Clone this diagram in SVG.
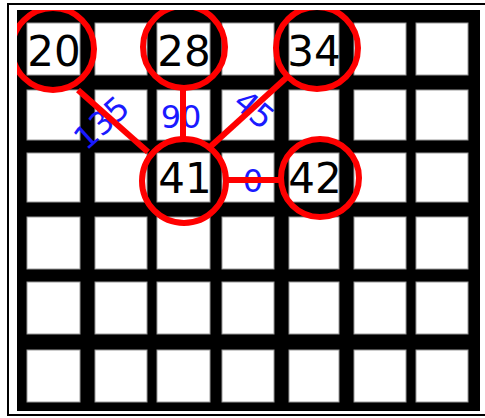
<svg xmlns="http://www.w3.org/2000/svg" width="485" height="418" viewBox="0 0 485 418">
<style>
.cell{fill:#fff;stroke:#999;stroke-width:1}
.ring{fill:none;stroke:#f00;stroke-width:6}
.num{font-family:"DejaVu Sans",sans-serif;font-size:42px;fill:#000;text-anchor:middle}
.lbl{font-family:"DejaVu Sans",sans-serif;font-size:32px;fill:#1a1aff;text-anchor:middle}
.edge{stroke:#f00;stroke-width:6;fill:none}
</style>
<defs>
<clipPath id="inner"><rect x="17" y="10" width="463" height="401"/></clipPath>
</defs>
<rect x="0" y="0" width="485" height="418" fill="#fff"/>
<rect x="8" y="4" width="490" height="411" fill="none" stroke="#000" stroke-width="2"/>
<g id="grid">
<rect x="17" y="10" width="463" height="401" fill="#000"/>
<g id="row1">
<rect class="cell" x="27" y="23" width="53" height="52"/><rect class="cell" x="95" y="23" width="52" height="52"/><rect class="cell" x="157" y="23" width="53" height="52"/><rect class="cell" x="222" y="23" width="52" height="52"/><rect class="cell" x="289" y="23" width="50" height="52"/><rect class="cell" x="354" y="23" width="52" height="52"/><rect class="cell" x="416" y="23" width="52" height="52"/>
</g>
<g id="row2">
<rect class="cell" x="27" y="90" width="53" height="50"/><rect class="cell" x="95" y="90" width="52" height="50"/><rect class="cell" x="157" y="90" width="53" height="50"/><rect class="cell" x="222" y="90" width="52" height="50"/><rect class="cell" x="289" y="90" width="50" height="50"/><rect class="cell" x="354" y="90" width="52" height="50"/><rect class="cell" x="416" y="90" width="52" height="50"/>
</g>
<g id="row3">
<rect class="cell" x="27" y="153" width="53" height="49"/><rect class="cell" x="95" y="153" width="52" height="49"/><rect class="cell" x="157" y="153" width="53" height="49"/><rect class="cell" x="222" y="153" width="52" height="49"/><rect class="cell" x="289" y="153" width="50" height="49"/><rect class="cell" x="354" y="153" width="52" height="49"/><rect class="cell" x="416" y="153" width="52" height="49"/>
</g>
<g id="row4">
<rect class="cell" x="27" y="217" width="53" height="52"/><rect class="cell" x="95" y="217" width="52" height="52"/><rect class="cell" x="157" y="217" width="53" height="52"/><rect class="cell" x="222" y="217" width="52" height="52"/><rect class="cell" x="289" y="217" width="50" height="52"/><rect class="cell" x="354" y="217" width="52" height="52"/><rect class="cell" x="416" y="217" width="52" height="52"/>
</g>
<g id="row5">
<rect class="cell" x="27" y="282" width="53" height="52"/><rect class="cell" x="95" y="282" width="52" height="52"/><rect class="cell" x="157" y="282" width="53" height="52"/><rect class="cell" x="222" y="282" width="52" height="52"/><rect class="cell" x="289" y="282" width="50" height="52"/><rect class="cell" x="354" y="282" width="52" height="52"/><rect class="cell" x="416" y="282" width="52" height="52"/>
</g>
<g id="row6">
<rect class="cell" x="27" y="350" width="53" height="52"/><rect class="cell" x="95" y="350" width="52" height="52"/><rect class="cell" x="157" y="350" width="53" height="52"/><rect class="cell" x="222" y="350" width="52" height="52"/><rect class="cell" x="289" y="350" width="50" height="52"/><rect class="cell" x="354" y="350" width="52" height="52"/><rect class="cell" x="416" y="350" width="52" height="52"/>
</g>
</g>
<g id="connectors">
<text class="lbl" font-size="26" transform="translate(109,131) rotate(-42)">135</text>
<text class="lbl" x="181" y="128">90</text>
<text class="lbl" font-size="27" transform="translate(247,118) rotate(40)">45</text>
<text class="lbl" x="253" y="192">0</text>
<line class="edge" x1="78" y1="90" x2="148" y2="152"/>
<line class="edge" x1="183" y1="89" x2="183" y2="140" stroke-width="7"/>
<line class="edge" x1="286" y1="78" x2="210" y2="147"/>
<line class="edge" x1="227" y1="180" x2="279" y2="180"/>
</g>
<g clip-path="url(#inner)">
<g id="node20"><circle class="ring" cx="53" cy="49" r="41"/><text class="num" x="54" y="66">20</text></g>
<g id="node28"><circle class="ring" cx="184" cy="47" r="41"/><text class="num" x="184" y="66">28</text></g>
<g id="node34"><circle class="ring" cx="317" cy="48" r="41"/><text class="num" x="314" y="66">34</text></g>
<g id="node41"><circle class="ring" cx="184" cy="181" r="42"/><text class="num" x="185" y="193">41</text></g>
<g id="node42"><circle class="ring" cx="320" cy="178" r="39"/><text class="num" x="315" y="193">42</text></g>
</g>
</svg>
